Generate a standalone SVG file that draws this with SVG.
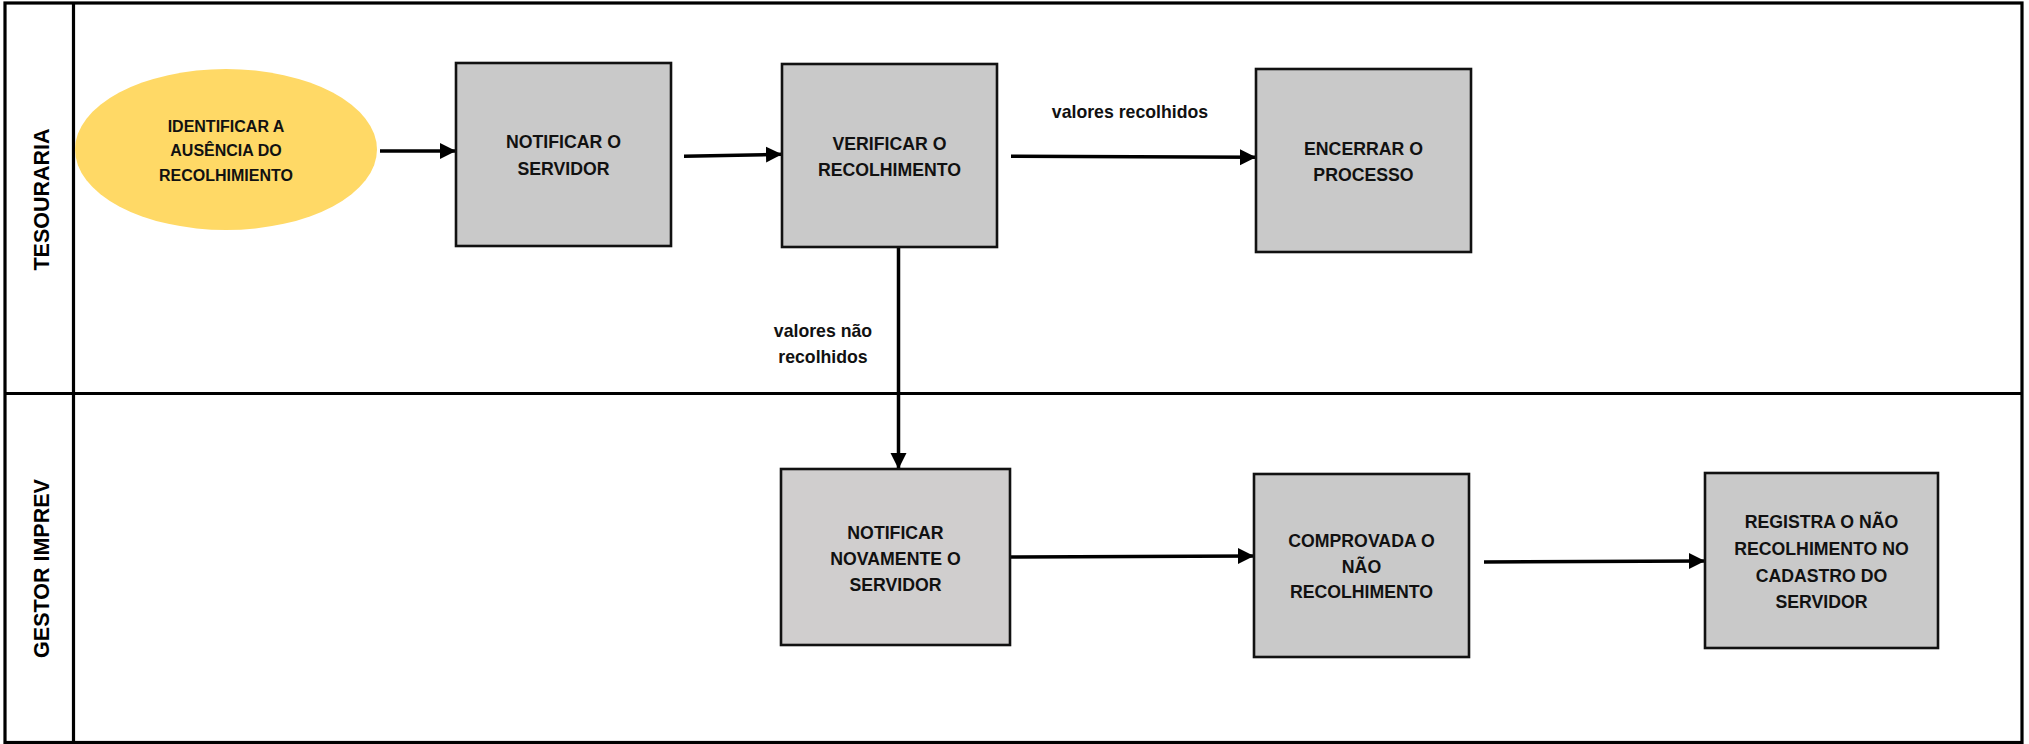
<svg xmlns="http://www.w3.org/2000/svg" width="2029" height="744" viewBox="0 0 2029 744">
  <style>
    .lane { fill: none; stroke: #000; stroke-width: 3.2; }
    .lanelabel { font-family: "Liberation Sans", Arial, sans-serif; font-weight: bold; font-size: 21.5px; fill: #000; text-anchor: middle; }
    .box { fill: #C9C9C9; stroke: #111; stroke-width: 2.6; }
    .box2 { fill: #D0CECE; stroke: #111; stroke-width: 2.6; }
    .start { fill: #FFD966; stroke: none; }
    .t { font-family: "Liberation Sans", Arial, sans-serif; font-weight: bold; font-size: 17.7px; fill: #111; text-anchor: middle; }
    .ts { font-family: "Liberation Sans", Arial, sans-serif; font-weight: bold; font-size: 16px; fill: #111; text-anchor: middle; }
    .conn { fill: none; stroke: #000; stroke-width: 3.5; marker-end: url(#arrow); }
  </style>
  <defs>
    <marker id="arrow" markerUnits="userSpaceOnUse" markerWidth="16" markerHeight="18" viewBox="0 0 16 18" refX="16" refY="9" orient="auto">
      <path d="M0,1 L16,9 L0,17 Z" fill="#000"/>
    </marker>
  </defs>
  <rect x="0" y="0" width="2029" height="744" fill="#fff"/>

  <g id="lanes">
    <rect class="lane" x="5" y="3" width="2017" height="739.5"/>
    <line class="lane" x1="73.5" y1="3" x2="73.5" y2="742.5"/>
    <line class="lane" x1="5" y1="393.5" x2="2022" y2="393.5"/>
    <text class="lanelabel" transform="translate(49,199.5) rotate(-90)">TESOURARIA</text>
    <text class="lanelabel" transform="translate(49,568.5) rotate(-90)">GESTOR IMPREV</text>
  </g>

  <g id="connectors">
    <line class="conn" x1="380" y1="151" x2="456" y2="151"/>
    <line class="conn" x1="684" y1="156.3" x2="782" y2="154.3"/>
    <line class="conn" x1="1011" y1="156.3" x2="1256" y2="157.3"/>
    <line class="conn" x1="898.5" y1="247" x2="898.5" y2="469"/>
    <line class="conn" x1="1010" y1="557" x2="1254" y2="556"/>
    <line class="conn" x1="1484" y1="562" x2="1705" y2="561"/>
    <text class="t" x="1130" y="117.5">valores recolhidos</text>
    <text class="t" x="823" y="336.5">valores não</text>
    <text class="t" x="823" y="362.5">recolhidos</text>
  </g>

  <g id="n-identificar">
    <ellipse class="start" cx="226" cy="149.5" rx="151" ry="80.5"/>
    <text class="ts" x="226" y="131.7">IDENTIFICAR A</text>
    <text class="ts" x="226" y="156">AUSÊNCIA DO</text>
    <text class="ts" x="226" y="180.7">RECOLHIMIENTO</text>
  </g>

  <g id="n-notificar">
    <rect class="box" x="456" y="63" width="215" height="183"/>
    <text class="t" x="563.5" y="148.3">NOTIFICAR O</text>
    <text class="t" x="563.5" y="175">SERVIDOR</text>
  </g>

  <g id="n-verificar">
    <rect class="box" x="782" y="64" width="215" height="183"/>
    <text class="t" x="889.5" y="150">VERIFICAR O</text>
    <text class="t" x="889.5" y="176">RECOLHIMENTO</text>
  </g>

  <g id="n-encerrar">
    <rect class="box" x="1256" y="69" width="215" height="183"/>
    <text class="t" x="1363.5" y="155.3">ENCERRAR O</text>
    <text class="t" x="1363.5" y="181">PROCESSO</text>
  </g>

  <g id="n-notificar-novamente">
    <rect class="box2" x="781" y="469" width="229" height="176"/>
    <text class="t" x="895.5" y="539">NOTIFICAR</text>
    <text class="t" x="895.5" y="565">NOVAMENTE O</text>
    <text class="t" x="895.5" y="591">SERVIDOR</text>
  </g>

  <g id="n-comprovada">
    <rect class="box" x="1254" y="474" width="215" height="183"/>
    <text class="t" x="1361.5" y="546.7">COMPROVADA O</text>
    <text class="t" x="1361.5" y="572.7">NÃO</text>
    <text class="t" x="1361.5" y="598.3">RECOLHIMENTO</text>
  </g>

  <g id="n-registra">
    <rect class="box" x="1705" y="473" width="233" height="175"/>
    <text class="t" x="1821.5" y="528">REGISTRA O NÃO</text>
    <text class="t" x="1821.5" y="555">RECOLHIMENTO NO</text>
    <text class="t" x="1821.5" y="581.7">CADASTRO DO</text>
    <text class="t" x="1821.5" y="607.7">SERVIDOR</text>
  </g>
</svg>
